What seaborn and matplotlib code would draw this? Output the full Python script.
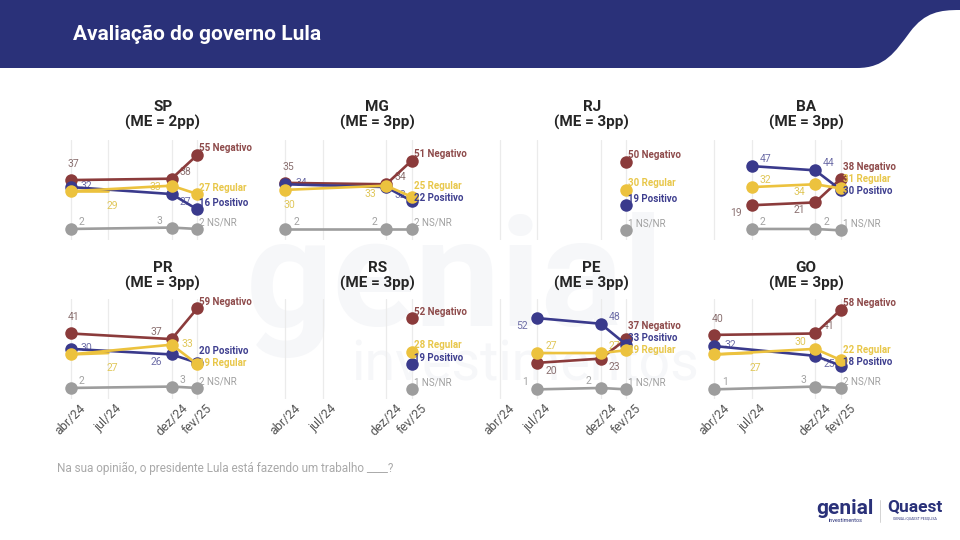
import numpy as np
import pandas as pd
import matplotlib
matplotlib.use('Agg')
import matplotlib.pyplot as plt
import seaborn as sns
from matplotlib.path import Path
from matplotlib.patches import PathPatch

# ── Dados ──────────────────────────────────────────────────────────────────
nan = np.nan
ESTADOS = ['SP', 'MG', 'RJ', 'BA', 'PR', 'RS', 'PE', 'GO']
MARGEM = [2, 3, 3, 3, 3, 3, 3, 3]
MESES = ['abr/24', 'jul/24', 'dez/24', 'fev/25']
DATAS = ['2024-04-01', '2024-07-01', '2024-12-01', '2025-02-01']

NEGATIVO = {'SP': [37, nan, 38, 55], 'MG': [35, nan, 34, 51], 'RJ': [nan, nan, nan, 50],
            'BA': [nan, 19, 21, 38], 'PR': [41, nan, 37, 59], 'RS': [nan, nan, nan, 52],
            'PE': [nan, 20, 23, 37], 'GO': [40, nan, 41, 58]}
POSITIVO = {'SP': [32, nan, 27, 16], 'MG': [34, nan, 32, 22], 'RJ': [nan, nan, nan, 19],
            'BA': [nan, 47, 44, 30], 'PR': [30, nan, 26, 20], 'RS': [nan, nan, nan, 19],
            'PE': [nan, 52, 48, 33], 'GO': [32, nan, 25, 18]}
REGULAR = {'SP': [29, nan, 33, 27], 'MG': [30, nan, 33, 25], 'RJ': [nan, nan, nan, 30],
           'BA': [nan, 32, 34, 31], 'PR': [26, nan, 33, 19], 'RS': [nan, nan, nan, 28],
           'PE': [nan, 27, 27, 29], 'GO': [26, nan, 30, 22]}
NSNR = {'SP': [2, nan, 3, 2], 'MG': [2, nan, 2, 2], 'RJ': [nan, nan, nan, 1],
        'BA': [nan, 2, 2, 1], 'PR': [2, nan, 3, 2], 'RS': [nan, nan, nan, 1],
        'PE': [nan, 1, 2, 1], 'GO': [1, nan, 3, 2]}
# "Regular" de jul/24 (traço solto, sem marcador)
REGULAR_JUL = {'SP': 29, 'PR': 27, 'GO': 27}

SERIES = {'Negativo': NEGATIVO, 'Positivo': POSITIVO, 'Regular': REGULAR, 'NS/NR': NSNR}
ORDEM = ['Negativo', 'Positivo', 'Regular', 'NS/NR']

# ── Estilo ─────────────────────────────────────────────────────────────────
CORES = {'Negativo': '#8b3b3b', 'Positivo': '#3a3a8c', 'Regular': '#ecc23e', 'NS/NR': '#9d9d9d'}
COR_ROTULO = {'Negativo': '#8a7070', 'Positivo': '#6f6fa8', 'Regular': '#e0c75a', 'NS/NR': '#a3a3a3'}
COR_FINAL = {'Negativo': '#8e4b4b', 'Positivo': '#3f3f8f', 'Regular': '#e8c74a', 'NS/NR': '#a0a0a0'}
AZUL = '#2a3179'

# posição dos rótulos de valor (dx, dy em pixels, alinhamento)
POS = {'u': (3, 16, 'center'), 'd': (4, -15, 'center'),
       'r': (10, 1, 'left'), 'l': (-10, -1, 'right'),
       'ur': (8, 7, 'left'), 'ul': (-9, 7, 'right'),
       'dr': (8, -8, 'left'), 'dl': (-10, -8, 'right')}
ROTULOS = {
    ('SP', 'Negativo'): ['u', None, 'ur'], ('SP', 'Positivo'): ['r', None, 'dr'],
    ('SP', 'Regular'): [None, None, 'l'], ('SP', 'NS/NR'): ['ur', None, 'ul'],
    ('MG', 'Negativo'): ['u', None, 'ur'], ('MG', 'Positivo'): ['r', None, 'dr'],
    ('MG', 'Regular'): ['d', None, 'dl'], ('MG', 'NS/NR'): ['ur', None, 'ul'],
    ('BA', 'Negativo'): [None, 'dl', 'dl'], ('BA', 'Positivo'): [None, 'ur', 'ur'],
    ('BA', 'Regular'): [None, 'ur', 'dl'], ('BA', 'NS/NR'): [None, 'ur', 'ur'],
    ('PR', 'Negativo'): ['u', None, 'ul'], ('PR', 'Positivo'): ['r', None, 'dl'],
    ('PR', 'Regular'): [None, None, 'r'], ('PR', 'NS/NR'): ['ur', None, 'ur'],
    ('PE', 'Negativo'): [None, 'dr', 'dr'], ('PE', 'Positivo'): [None, 'dl', 'ur'],
    ('PE', 'Regular'): [None, 'ur', 'ur'], ('PE', 'NS/NR'): [None, 'ul', 'ul'],
    ('GO', 'Negativo'): ['u', None, 'ur'], ('GO', 'Positivo'): ['r', None, 'dr'],
    ('GO', 'Regular'): [None, None, 'ul'], ('GO', 'NS/NR'): ['ur', None, 'ul'],
}

DIAS = list((pd.to_datetime(DATAS) - pd.Timestamp(DATAS[0])).days)
XLIM = (-25, 331)
YLIM = (-5.9, 65.7)
PX_DIA = 0.4137
AX_H = 100
COL_X = [70.7 + 214.5 * i for i in range(4)]
ROW_TOP = [140, 299]
W, H = 960, 540
PX_UN = AX_H / (YLIM[1] - YLIM[0])

sns.set_theme(style='white')
plt.rcParams['font.family'] = ['Roboto', 'DejaVu Sans']


def espalhar(vals, gap):
    """Afasta rótulos finais sobrepostos (em unidades de dado)."""
    ordem = sorted(range(len(vals)), key=lambda i: -vals[i])
    grupos = [[i] for i in ordem]
    pos = {i: vals[i] for i in ordem}
    mudou = True
    while mudou:
        mudou = False
        for k in range(len(grupos) - 1):
            a, b = grupos[k], grupos[k + 1]
            if pos[a[-1]] - pos[b[0]] < gap - 1e-9:
                g = a + b
                centro = np.mean([vals[i] for i in g])
                n = len(g)
                for j, i in enumerate(g):
                    pos[i] = centro + (n - 1) / 2 * gap - j * gap
                grupos[k:k + 2] = [g]
                mudou = True
                break
    return pos


def painel(ax, estado, linha_baixo):
    reg = []
    for serie in ORDEM:
        for i, v in enumerate(SERIES[serie][estado]):
            if not np.isnan(v):
                reg.append({'dia': DIAS[i], 'valor': v, 'serie': serie})
    df = pd.DataFrame(reg)

    if estado in REGULAR_JUL:
        ax.plot([DIAS[0], DIAS[1]], [REGULAR[estado][0], REGULAR_JUL[estado]],
                color=CORES['Regular'], lw=1.9, zorder=2.9, solid_capstyle='round')
        ax.annotate(str(REGULAR_JUL[estado]), (DIAS[1], REGULAR_JUL[estado]),
                    xytext=POS['d'][:2], textcoords='offset pixels', ha='center', va='center',
                    fontsize=7.5, color=COR_ROTULO['Regular'], zorder=1.5)

    sns.lineplot(data=df, x='dia', y='valor', hue='serie', hue_order=ORDEM, palette=CORES,
                 marker='o', markersize=9, markeredgewidth=0, linewidth=1.9,
                 estimator=None, legend=False, ax=ax, zorder=3)

    # rótulos de valor intermediários
    for serie in ORDEM:
        codigos = ROTULOS.get((estado, serie), [None, None, None])
        for i, cod in enumerate(codigos):
            v = SERIES[serie][estado][i]
            if cod is None or np.isnan(v):
                continue
            dx, dy, ha = POS[cod]
            ax.annotate(f'{v:.0f}', (DIAS[i], v), xytext=(dx, dy), textcoords='offset pixels',
                        ha=ha, va='center', fontsize=7.5, color=COR_ROTULO[serie], zorder=1.5)

    # rótulos finais (fev/25)
    finais = [SERIES[s][estado][3] for s in ORDEM]
    desejado = [v + 6.5 / PX_UN for v in finais]
    pos = espalhar(desejado, 12 / PX_UN)
    for k, serie in enumerate(ORDEM):
        ax.annotate(f'{finais[k]:.0f} {serie}', (DIAS[3], pos[k]), xytext=(2, 0),
                    textcoords='offset pixels', ha='left', va='center', fontsize=7,
                    fontweight='normal' if serie == 'NS/NR' else 'bold',
                    color=COR_FINAL[serie], zorder=4, annotation_clip=False)

    ax.set_xlim(XLIM)
    ax.set_ylim(YLIM)
    ax.set_xticks(DIAS)
    ax.set_xticklabels(MESES if linha_baixo else [])
    ax.set_yticks([])
    ax.set_xlabel('')
    ax.set_ylabel('')
    ax.grid(axis='x', color='#ebebeb', lw=0.9)
    ax.set_axisbelow(True)
    ax.patch.set_alpha(0)
    sns.despine(ax=ax, left=True, bottom=True)
    ax.tick_params(axis='x', length=0, pad=2, labelsize=9, labelcolor='#555555', rotation=45)


fig = plt.figure(figsize=(9.6, 5.4), dpi=100)

# fundo: faixa do título, marca d'água, textos
bg = fig.add_axes([0, 0, 1, 1], zorder=-1)
bg.set_xlim(0, W)
bg.set_ylim(H, 0)
bg.axis('off')
faixa = Path([(0, 0), (960, 0), (960, 10), (940, 10), (925, 12), (910, 32),
              (895, 52), (885, 68), (857, 68), (0, 68), (0, 0)],
             [Path.MOVETO, Path.LINETO, Path.LINETO, Path.CURVE4, Path.CURVE4, Path.CURVE4,
              Path.CURVE4, Path.CURVE4, Path.CURVE4, Path.LINETO, Path.CLOSEPOLY])
bg.add_patch(PathPatch(faixa, facecolor=AZUL, edgecolor='none'))
bg.text(73, 34, 'Avaliação do governo Lula', color='white', fontsize=15,
        fontweight='bold', va='center', ha='left')
bg.text(455, 285, 'genial', fontsize=110, color='#f6f7f9', fontweight='bold',
        ha='center', va='center')
bg.text(525, 365, 'investimentos', fontsize=40, color='#f6f7f9', ha='center', va='center')
bg.text(57, 468, 'Na sua opinião, o presidente Lula está fazendo um trabalho ____?',
        fontsize=8.5, color='#a9a9a9', va='center', ha='left')
bg.text(845, 508, 'genial', fontsize=15, color=AZUL, fontweight='bold', ha='center', va='center')
bg.text(846, 520, 'investimentos', fontsize=4, color=AZUL, ha='center', va='center')
bg.plot([880, 880], [500, 522], color='#cccccc', lw=0.6)
bg.text(915, 507, 'Quaest', fontsize=12.5, color=AZUL, fontweight='bold', ha='center', va='center')
bg.text(915, 519, 'GENIAL/QUAEST PESQUISA', fontsize=2.5, color=AZUL, ha='center', va='center')

for n, estado in enumerate(ESTADOS):
    lin, col = divmod(n, 4)
    x0 = COL_X[col] + XLIM[0] * PX_DIA
    largura = (XLIM[1] - XLIM[0]) * PX_DIA
    topo = ROW_TOP[lin]
    ax = fig.add_axes([x0 / W, 1 - (topo + AX_H) / H, largura / W, AX_H / H])
    painel(ax, estado, lin == 1)
    bg.text(COL_X[col] + 92, 115 if lin == 0 else 276, f'{estado}\n(ME = {MARGEM[n]}pp)',
            ha='center', va='center', fontsize=11, fontweight='bold', color='#262626',
            linespacing=1.15)

fig.savefig('out.png', dpi=100)
plt.close(fig)
